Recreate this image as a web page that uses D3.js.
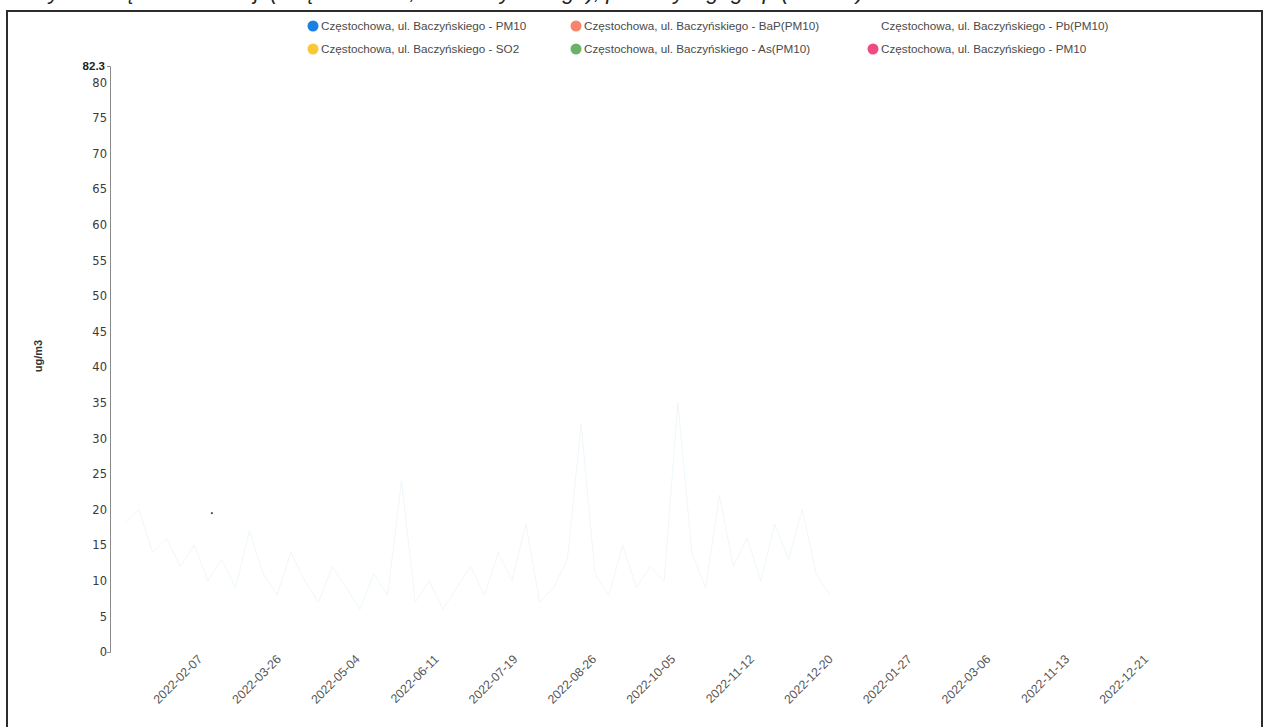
<!DOCTYPE html>
<html>
<head>
<meta charset="utf-8">
<script src="https://cdn.jsdelivr.net/npm/d3@7"></script>
<style>
  body { margin: 0; background: #fff; }
  svg { display: block; font-family: "Liberation Sans", Arial, sans-serif; }
  .axis path { stroke: #8a8a8a; }
  .axis text { fill: #3a3a3a; font-family: "DejaVu Sans", sans-serif; font-size: 11.5px; }
  .legend text { fill: #4a4a4a; font-size: 11.7px; }
  .xlabel { fill: #555; font-size: 12.3px; }
</style>
</head>
<body>
<svg width="1264" height="727"></svg>
<script>
// legend entries (series names and colours)
const seriesNames = [
    'Częstochowa, ul. Baczyńskiego - PM10',
    'Częstochowa, ul. Baczyńskiego - BaP(PM10)',
    'Częstochowa, ul. Baczyńskiego - Pb(PM10)',
    'Częstochowa, ul. Baczyńskiego - SO2',
    'Częstochowa, ul. Baczyńskiego - As(PM10)',
    'Częstochowa, ul. Baczyńskiego - PM10'
];
const seriesColors = ['#1a7fe3', '#f6856c', '#ffffff', '#f8c935', '#6cb36a', '#f04b80'];

// x axis tick labels, as printed
const xLabels = ['2022-02-07', '2022-03-26', '2022-05-04', '2022-06-11', '2022-07-19', '2022-08-26',
    '2022-10-05', '2022-11-12', '2022-12-20', '2022-01-27', '2022-03-06', '2022-11-13', '2022-12-21'];

// y axis
const yTicks = [0, 5, 10, 15, 20, 25, 30, 35, 40, 45, 50, 55, 60, 65, 70, 75, 80];
const yMax = 82.3;

// faint PM10 trace (weekly reading of the washed-out line), 2022
const pm10Start = '2022-01-03';
const pm10End = '2022-12-26';
const pm10Values = [18, 20, 14, 16, 12, 15, 10, 13, 9, 17, 11, 8, 14, 10, 7, 12, 9, 6, 11, 8,
    24, 7, 10, 6, 9, 12, 8, 14, 10, 18, 7, 9, 13, 32, 11, 8, 15, 9, 12, 10,
    35, 14, 9, 22, 12, 16, 10, 18, 13, 20, 11, 8];

// the single dark point left of the trace
const pointDates = ['2022-02-16'];
const pointValues = [19.5];

const svg = d3.select('svg');
const parse = d3.timeParse('%Y-%m-%d');

// page frame
svg.append('rect')
    .attr('x', 7)
    .attr('y', 11)
    .attr('width', 1255)
    .attr('height', 740)
    .attr('fill', 'none')
    .attr('stroke', '#2c2c2c')
    .attr('stroke-width', 2);

// title, cut off at the top of the scanned page (only descenders show)
svg.append('text')
    .attr('x', 28)
    .attr('y', -1)
    .attr('font-style', 'italic')
    .attr('font-size', 22)
    .attr('fill', '#222')
    .text('Wykres stężeń dla stacji (Częstochowa, ul. Baczyńskiego), pomiary wg. grup (2022 r.)');

const yScale = d3.scaleLinear()
    .domain([0, yMax])
    .range([652, 66]);

const xTime = d3.scaleTime()
    .domain([parse(pm10Start), parse(pm10End)])
    .range([125, 830]);

const xPoint = d3.scalePoint()
    .domain(xLabels)
    .range([203, 1149]);

// faint data line
const weekDates = pm10Values.map((v, i) => d3.timeWeek.offset(parse(pm10Start), i));
svg.append('path')
    .datum(pm10Values)
    .attr('fill', 'none')
    .attr('stroke', '#e4f1f7')
    .attr('stroke-width', 1)
    .attr('opacity', 0.6)
    .attr('d', d3.line()
        .x((d, i) => xTime(weekDates[i]))
        .y((d) => yScale(d)));

svg.selectAll('.pt')
    .data(pointValues)
    .enter()
    .append('circle')
    .attr('class', 'pt')
    .attr('cx', (d, i) => xTime(parse(pointDates[i])))
    .attr('cy', (d) => yScale(d))
    .attr('r', 1.1)
    .attr('fill', '#555');

// y axis
const yAxis = svg.append('g')
    .attr('class', 'axis')
    .attr('transform', 'translate(110, 0)')
    .call(d3.axisLeft(yScale)
        .tickValues(yTicks)
        .tickSizeInner(0)
        .tickSizeOuter(3)
        .tickPadding(3));
yAxis.selectAll('.tick line').remove();

svg.append('text')
    .attr('x', 105)
    .attr('y', 70)
    .attr('text-anchor', 'end')
    .attr('font-weight', 'bold')
    .attr('font-size', 11.5)
    .attr('fill', '#222')
    .text(yMax);

svg.append('text')
    .attr('transform', 'translate(42, 356) rotate(-90)')
    .attr('text-anchor', 'middle')
    .attr('font-weight', 'bold')
    .attr('font-size', 11)
    .attr('fill', '#333')
    .text('ug/m3');

// x labels
svg.selectAll('.xlabel')
    .data(xLabels)
    .enter()
    .append('text')
    .attr('class', 'xlabel')
    .attr('text-anchor', 'end')
    .attr('transform', (d) => `translate(${xPoint(d)}, 660) rotate(-45)`)
    .text((d) => d);

// legend
const legendCols = [313, 576, 873];
const legendRows = [26, 49];
const legend = svg.append('g').attr('class', 'legend');
const items = legend.selectAll('g')
    .data(seriesNames)
    .enter()
    .append('g')
    .attr('transform', (d, i) => `translate(${legendCols[i % 3]}, ${legendRows[Math.floor(i / 3)]})`);

items.append('circle')
    .attr('r', 5.5)
    .attr('fill', (d, i) => seriesColors[i]);

items.append('text')
    .attr('x', 8)
    .attr('dy', '0.35em')
    .text((d) => d);
</script>
</body>
</html>
